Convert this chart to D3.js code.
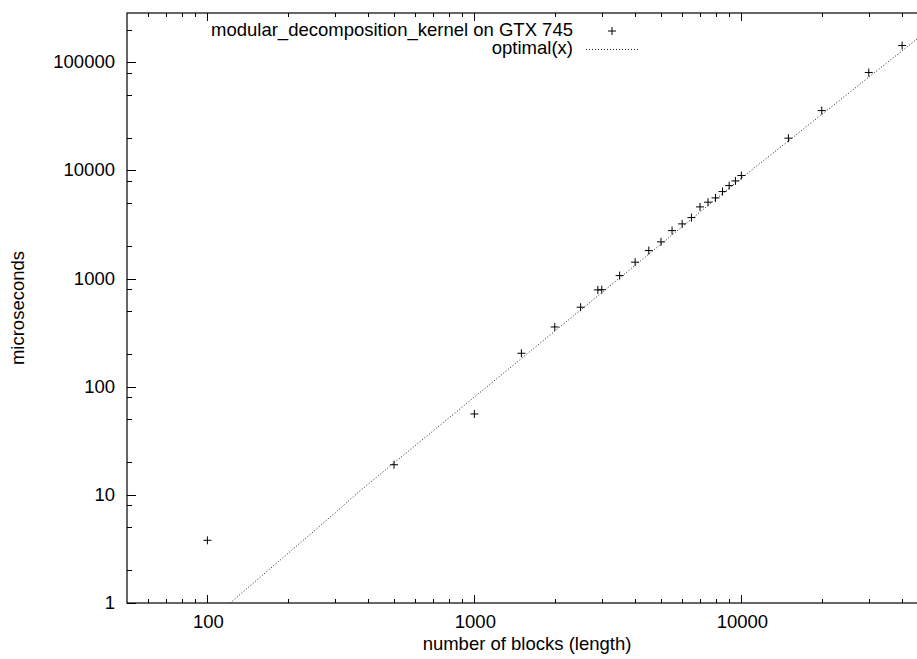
<!DOCTYPE html>
<html>
<head>
<meta charset="utf-8">
<script src="https://cdn.jsdelivr.net/npm/d3@7"></script>
<style>
  body { margin: 0; background: white; }
  svg { display: block; }
  text { font-family: "Liberation Sans", Arial, Helvetica, sans-serif; font-size: 18.5px; fill: #000; }
</style>
</head>
<body>
<svg id="chart" width="917" height="659"></svg>
<script>
var blocks = [100, 500, 1000, 1500, 2000, 2500, 2900, 3000, 3500, 4000, 4500, 5000, 5500,
              6000, 6500, 7000, 7500, 8000, 8500, 9000, 9500, 10000, 15000, 20000, 30000, 40000];
var micros = [3.8, 19, 56, 204, 357, 544, 786, 790, 1066, 1419, 1816, 2185, 2780,
              3206, 3667, 4604, 5090, 5577, 6380, 7250, 8010, 8980, 19900, 35800, 80500, 143000];

// optimal(x) curve, points
var optimalX = [121.6, 264, 373, 10000, 50000];
var optimalY = [1, 5.15, 10.9, 8490, 198000];

var xTicks = [100, 1000, 10000];
var yTicks = [1, 10, 100, 1000, 10000, 100000];
var yMinorMult = [2, 5, 8];

var svg = d3.select("#chart");

// plot box (right edge falls just outside the picture)
var box = { left: 127, right: 928, top: 13, bottom: 603 };

var x = d3.scaleLog().domain([50, 50000]).range([box.left, box.right]);
var y = d3.scaleLog().domain([1, 286000]).range([box.bottom, box.top]);

// minor ticks
var xMinor = [];
[10, 100, 1000, 10000].forEach(function(d) {
    for (var k = 2; k <= 9; k++) {
        var v = d * k;
        if (v > 50 && v < 50000 && xTicks.indexOf(v) < 0) xMinor.push(v);
    }
});
var yMinor = [];
[1, 10, 100, 1000, 10000, 100000].forEach(function(d) {
    yMinorMult.forEach(function(k) {
        if (d * k < 286000) yMinor.push(d * k);
    });
});

var axes = svg.append("g").attr("stroke", "#000").attr("stroke-width", 1);

// bottom and top ticks
xTicks.concat(xMinor).forEach(function(v) {
    var len = xTicks.indexOf(v) >= 0 ? 8 : 4;
    var px = Math.round(x(v)) + 0.5;
    axes.append("line").attr("x1", px).attr("x2", px).attr("y1", box.bottom).attr("y2", box.bottom - len);
    axes.append("line").attr("x1", px).attr("x2", px).attr("y1", box.top).attr("y2", box.top + len);
});

// left ticks
yTicks.concat(yMinor).forEach(function(v) {
    var len = yTicks.indexOf(v) >= 0 ? 9 : 5;
    var py = Math.round(y(v)) + 0.5;
    axes.append("line").attr("x1", box.left).attr("x2", box.left + len).attr("y1", py).attr("y2", py);
});

// frame
svg.append("rect")
    .attr("x", box.left)
    .attr("y", box.top)
    .attr("width", box.right - box.left)
    .attr("height", box.bottom - box.top)
    .attr("fill", "none")
    .attr("stroke", "#000")
    .attr("stroke-width", 1.2);

// tick labels
svg.selectAll(".xlab")
    .data(xTicks)
    .enter()
    .append("text")
    .attr("x", function(d) { return x(d) + 1; })
    .attr("y", 628)
    .attr("text-anchor", "middle")
    .text(function(d) { return d; });

svg.selectAll(".ylab")
    .data(yTicks)
    .enter()
    .append("text")
    .attr("x", 115)
    .attr("y", function(d) { return y(d) + 6; })
    .attr("text-anchor", "end")
    .text(function(d) { return d; });

// axis titles
svg.append("text")
    .attr("x", 527)
    .attr("y", 650)
    .attr("text-anchor", "middle")
    .text("number of blocks (length)");

svg.append("text")
    .attr("transform", "translate(24,308) rotate(-90)")
    .attr("text-anchor", "middle")
    .text("microseconds");

// clip to plotting area
svg.append("clipPath")
    .attr("id", "plotArea")
    .append("rect")
    .attr("x", box.left)
    .attr("y", box.top)
    .attr("width", box.right - box.left)
    .attr("height", box.bottom - box.top);

var line = d3.line()
    .x(function(d, i) { return x(optimalX[i]); })
    .y(function(d, i) { return y(optimalY[i]); });

svg.append("path")
    .attr("clip-path", "url(#plotArea)")
    .attr("d", line(optimalX))
    .attr("fill", "none")
    .attr("stroke", "#222")
    .attr("stroke-width", 1)
    .attr("stroke-dasharray", "1,2");

var plus = "M-4,0H4M0,-4V4";

svg.selectAll(".pt")
    .data(blocks)
    .enter()
    .append("path")
    .attr("transform", function(d, i) {
        return "translate(" + x(d) + "," + y(micros[i]) + ")";
    })
    .attr("d", plus)
    .attr("stroke", "#000")
    .attr("stroke-width", 1)
    .attr("fill", "none");

// legend
svg.append("text")
    .attr("x", 573)
    .attr("y", 36)
    .attr("text-anchor", "end")
    .text("modular_decomposition_kernel on GTX 745");

svg.append("path")
    .attr("transform", "translate(612,31)")
    .attr("d", plus)
    .attr("stroke", "#000")
    .attr("stroke-width", 1);

svg.append("text")
    .attr("x", 573)
    .attr("y", 54)
    .attr("text-anchor", "end")
    .text("optimal(x)");

svg.append("line")
    .attr("x1", 586)
    .attr("x2", 638)
    .attr("y1", 49.5)
    .attr("y2", 49.5)
    .attr("stroke", "#222")
    .attr("stroke-width", 1)
    .attr("stroke-dasharray", "1,2");
</script>
</body>
</html>
